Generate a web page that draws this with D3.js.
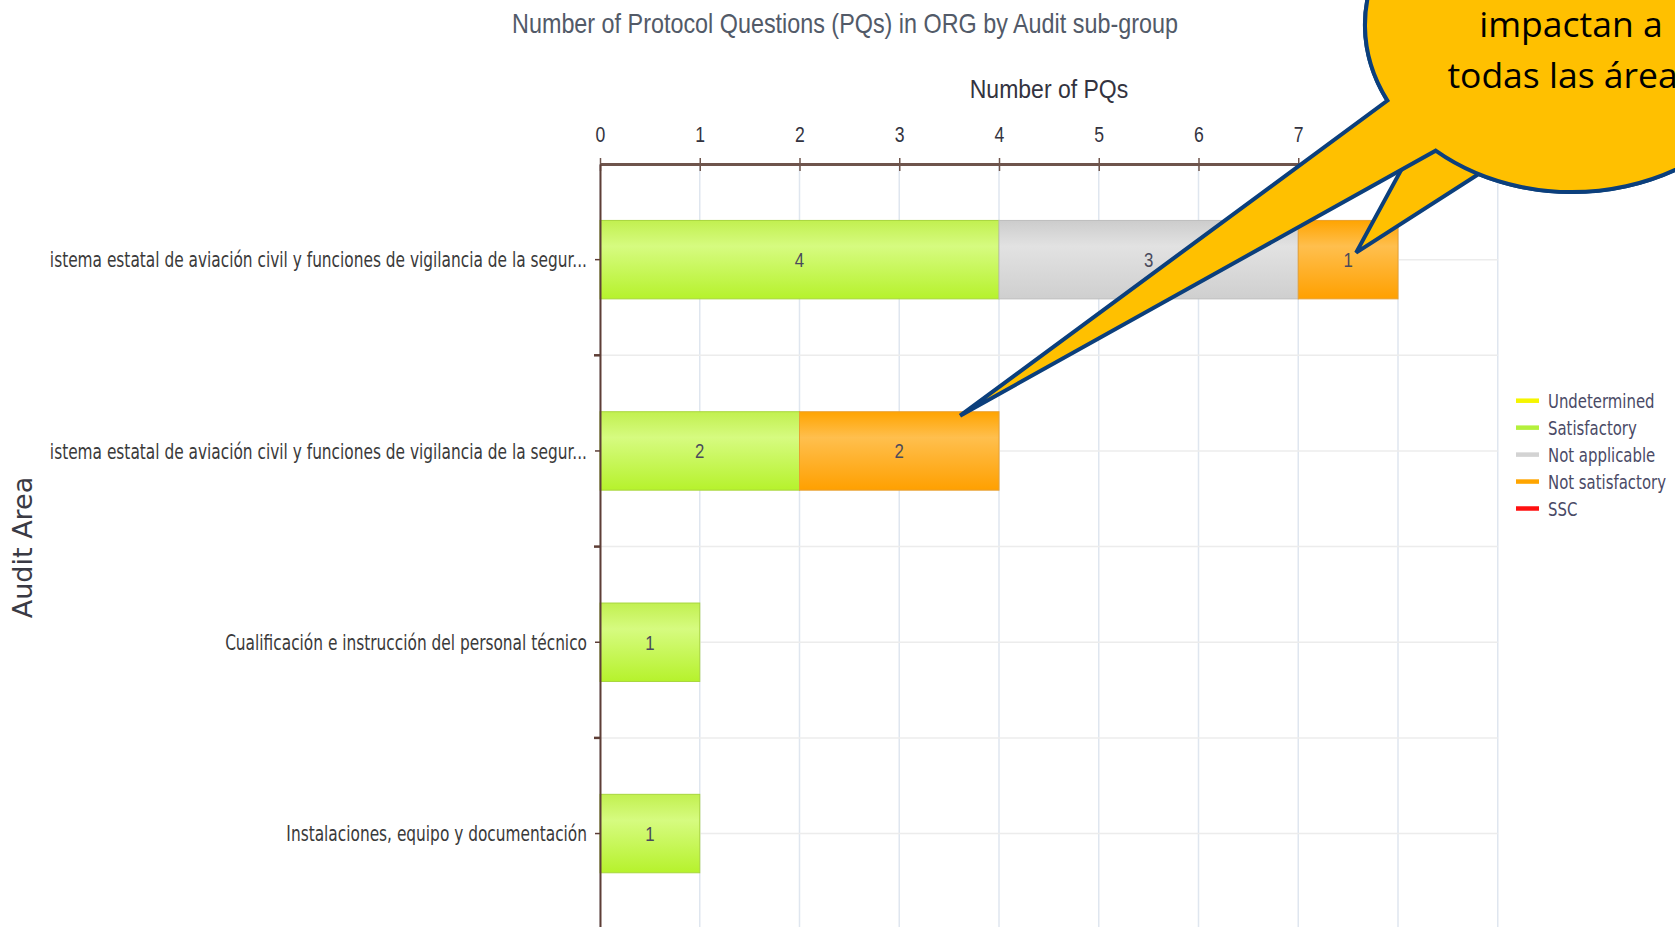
<!DOCTYPE html>
<html>
<head>
<meta charset="utf-8">
<script src="https://cdn.jsdelivr.net/npm/d3@7"></script>
<style>
  body { margin: 0; background: #fff; }
  svg { display: block; }
</style>
</head>
<body>
<svg id="chart" width="1675" height="927"></svg>
<script>
// Data
var categories = [
  "istema estatal de aviación civil y funciones de vigilancia de la segur...",
  "istema estatal de aviación civil y funciones de vigilancia de la segur...",
  "Cualificación e instrucción del personal técnico",
  "Instalaciones, equipo y documentación"
];
var seriesNames = ["Undetermined", "Satisfactory", "Not applicable", "Not satisfactory", "SSC"];
var undetermined    = [0, 0, 0, 0];
var satisfactory    = [4, 2, 1, 1];
var notApplicable   = [3, 0, 0, 0];
var notSatisfactory = [1, 2, 0, 0];
var ssc             = [0, 0, 0, 0];
var xTickValues = [0, 1, 2, 3, 4, 5, 6, 7, 8, 9];
var calloutLines = ["impactan a", "todas las áreas"];

var seriesValues = [undetermined, satisfactory, notApplicable, notSatisfactory, ssc];

// colours: legend swatch, gradient top / light band / bottom, edge
var swatch = ["#f5f500", "#b4f03c", "#d3d3d3", "#ffa500", "#ff1010"];
var grad = [
  ["#f0f000", "#ffff66", "#eeee00", "#d8d800"],
  ["#c2f050", "#d6fb80", "#b6f22c", "#a8d63c"],
  ["#cccccc", "#e2e2e2", "#cfcfcf", "#bdbdbd"],
  ["#ffa400", "#ffbf4e", "#ffa000", "#e8a030"],
  ["#ee0000", "#ff5555", "#dd0000", "#bb0000"]
];

var svg = d3.select("#chart");
var defs = svg.append("defs");

// squeeze text horizontally, the original is a compressed screenshot
function squeeze(sel, k) {
  sel.each(function() {
    var w = this.getComputedTextLength();
    d3.select(this).attr("textLength", w * k).attr("lengthAdjust", "spacingAndGlyphs");
  });
}

// build rows for d3.stack
var rows = categories.map(function(c, i) {
  var r = {idx: i};
  seriesNames.forEach(function(s, j) { r[s] = seriesValues[j][i]; });
  return r;
});
var stacked = d3.stack().keys(seriesNames)(rows);

// Scales
var x = d3.scaleLinear().domain([0, 9]).range([600, 1497.75]);
var y = d3.scaleBand()
    .domain(d3.range(categories.length))
    .range([164, 929.2])
    .paddingInner(0.59)
    .paddingOuter(0.295);
var top0 = 164, bottom0 = 929.2;

// gradients
seriesNames.forEach(function(s, j) {
  var g = defs.append("linearGradient")
      .attr("id", "g" + j)
      .attr("x1", 0).attr("y1", 0).attr("x2", 0).attr("y2", 1);
  g.append("stop").attr("offset", "0%").attr("stop-color", grad[j][0]);
  g.append("stop").attr("offset", "33%").attr("stop-color", grad[j][1]);
  g.append("stop").attr("offset", "100%").attr("stop-color", grad[j][2]);
});

// Grid
var grid = svg.append("g");
grid.selectAll(".vg")
  .data(xTickValues)
  .enter().append("line")
    .attr("x1", function(d) { return x(d); })
    .attr("x2", function(d) { return x(d); })
    .attr("y1", top0).attr("y2", bottom0)
    .attr("stroke", "#dfe6ef").attr("stroke-width", 1.5);

var hLines = [];
categories.forEach(function(c, i) {
  hLines.push(y(i) + y.bandwidth() / 2);
  if (i > 0) hLines.push(top0 + y.step() * i);
});
grid.selectAll(".hg")
  .data(hLines)
  .enter().append("line")
    .attr("x1", x(0)).attr("x2", x(9))
    .attr("y1", function(d) { return d; })
    .attr("y2", function(d) { return d; })
    .attr("stroke", "#ececec").attr("stroke-width", 1.5);

// Bars
var layer = svg.append("g").selectAll("g")
  .data(stacked)
  .enter().append("g");

layer.selectAll("rect")
  .data(function(d) { return d.map(function(p) { return {p: p, k: d.index}; }); })
  .enter().filter(function(d) { return d.p[1] - d.p[0] > 0; })
  .append("rect")
    .attr("x", function(d) { return x(d.p[0]); })
    .attr("y", function(d) { return y(d.p.data.idx); })
    .attr("width", function(d) { return x(d.p[1]) - x(d.p[0]); })
    .attr("height", y.bandwidth())
    .attr("fill", function(d) { return "url(#g" + d.k + ")"; })
    .attr("stroke", function(d) { return grad[d.k][3]; })
    .attr("stroke-width", 1);

var barLabels = layer.selectAll("text")
  .data(function(d) { return d.map(function(p) { return {p: p, k: d.index}; }); })
  .enter().filter(function(d) { return d.p[1] - d.p[0] > 0; })
  .append("text")
    .attr("x", function(d) { return x((d.p[0] + d.p[1]) / 2); })
    .attr("y", function(d) { return y(d.p.data.idx) + y.bandwidth() / 2 + 7.5; })
    .attr("text-anchor", "middle")
    .attr("font-family", "Liberation Sans, Arial, sans-serif")
    .attr("font-size", 21)
    .attr("fill", "#4a4a5c")
    .text(function(d) { return d.p[1] - d.p[0]; });
squeeze(barLabels, 0.8);

// Top axis
var xAxis = svg.append("g")
    .attr("transform", "translate(0," + top0 + ")")
    .call(d3.axisTop(x).tickValues(xTickValues).tickFormat(d3.format("d"))
      .tickSizeInner(6).tickSizeOuter(0).tickPadding(16));
xAxis.select(".domain").attr("stroke", "#6e544c").attr("stroke-width", 3);
xAxis.selectAll(".tick line").attr("y2", 7).attr("y1", -6).attr("stroke", "#6e544c").attr("stroke-width", 1.5);
xAxis.selectAll(".tick text")
  .attr("font-family", "Liberation Sans, Arial, sans-serif")
  .attr("font-size", 22)
  .attr("fill", "#333340");
squeeze(xAxis.selectAll(".tick text"), 0.8);

// Left axis
var yAxis = svg.append("g")
    .attr("transform", "translate(" + x(0) + ",0)")
    .call(d3.axisLeft(y).tickFormat(function(i) { return categories[i]; })
      .tickSizeInner(5).tickSizeOuter(0).tickPadding(8));
yAxis.select(".domain").attr("stroke", "#5e3e36").attr("stroke-width", 2);
yAxis.selectAll(".tick line").attr("stroke", "#5e3e36").attr("stroke-width", 1.5);
yAxis.selectAll(".tick text")
  .attr("font-family", "DejaVu Sans, Verdana, sans-serif")
  .attr("font-size", 21)
  .attr("dy", "0.36em")
  .attr("fill", "#3a3a3a");
squeeze(yAxis.selectAll(".tick text"), 0.732);

// category separator ticks
yAxis.selectAll(".sep")
  .data(d3.range(1, categories.length))
  .enter().append("line")
    .attr("x1", -6).attr("x2", 0)
    .attr("y1", function(i) { return top0 + y.step() * i; })
    .attr("y2", function(i) { return top0 + y.step() * i; })
    .attr("stroke", "#5e3e36").attr("stroke-width", 2.5);

// Titles
var title = svg.append("text")
    .attr("x", 845).attr("y", 33)
    .attr("text-anchor", "middle")
    .attr("font-family", "Liberation Sans, Arial, sans-serif")
    .attr("font-size", 28)
    .attr("fill", "#525a68")
    .text("Number of Protocol Questions (PQs) in ORG by Audit sub-group");
squeeze(title, 0.834);

var xTitle = svg.append("text")
    .attr("x", 1049).attr("y", 98)
    .attr("text-anchor", "middle")
    .attr("font-family", "Liberation Sans, Arial, sans-serif")
    .attr("font-size", 25)
    .attr("fill", "#333340")
    .text("Number of PQs");
squeeze(xTitle, 0.92);

svg.append("text")
    .attr("transform", "translate(32,547.5) rotate(-90)")
    .attr("text-anchor", "middle")
    .attr("font-family", "DejaVu Sans, Verdana, sans-serif")
    .attr("font-size", 27)
    .attr("fill", "#3a3a44")
    .text("Audit Area");

// Legend
var legend = svg.append("g").attr("transform", "translate(1516,400.7)");
var li = legend.selectAll("g")
  .data(seriesNames)
  .enter().append("g")
    .attr("transform", function(d, i) { return "translate(0," + (i * 26.95) + ")"; });
li.append("line")
    .attr("x1", 0).attr("x2", 23).attr("y1", 0).attr("y2", 0)
    .attr("stroke", function(d, i) { return swatch[i]; })
    .attr("stroke-width", 4.5);
var legText = li.append("text")
    .attr("x", 32).attr("y", 7.6)
    .attr("font-family", "DejaVu Sans, Verdana, sans-serif")
    .attr("font-size", 20)
    .attr("fill", "#4a4a66")
    .text(function(d) { return d; });
squeeze(legText, 0.745);

// Callout bubbles (drawn over the chart)
var ell = {cx: 1572, cy: 25, rx: 207, ry: 167};
function ellPt(deg) {
  var a = deg * Math.PI / 180;
  return [ell.cx + ell.rx * Math.cos(a), ell.cy + ell.ry * Math.sin(a)];
}
function bubble(a1, a2, tip) {
  var p1 = ellPt(a1), p2 = ellPt(a2);
  return "M" + p1[0] + "," + p1[1] +
    " A" + ell.rx + "," + ell.ry + " 0 1 1 " + p2[0] + "," + p2[1] +
    " L" + tip[0] + "," + tip[1] + " Z";
}
var callouts = svg.append("g");
// pointer to first bar's orange segment, then the one to the second bar on top
var tip1 = [x(7.5) + 8, y(0) + y.bandwidth() / 2 - 7];
var tip2 = [x(3.6) + 1, y(1) + 4];
callouts.append("path")
    .attr("d", bubble(137.7, 116.8, tip1))
    .attr("fill", "#ffc000").attr("stroke", "#0b3f7c").attr("stroke-width", 4)
    .attr("stroke-linejoin", "miter");
callouts.append("path")
    .attr("d", bubble(153.1, 131.2, tip2))
    .attr("fill", "#ffc000").attr("stroke", "#0b3f7c").attr("stroke-width", 4)
    .attr("stroke-linejoin", "miter");

var cText = callouts.selectAll("text")
  .data(calloutLines)
  .enter().append("text")
    .attr("x", 1571)
    .attr("y", function(d, i) { return 36.7 + i * 51.3; })
    .attr("text-anchor", "middle")
    .attr("font-family", "Open Sans, Noto Sans, sans-serif")
    .attr("font-weight", 400)
    .attr("font-size", 35.5)
    .attr("fill", "#000")
    .text(function(d) { return d; });
squeeze(cText, 1.0);
</script>
</body>
</html>
